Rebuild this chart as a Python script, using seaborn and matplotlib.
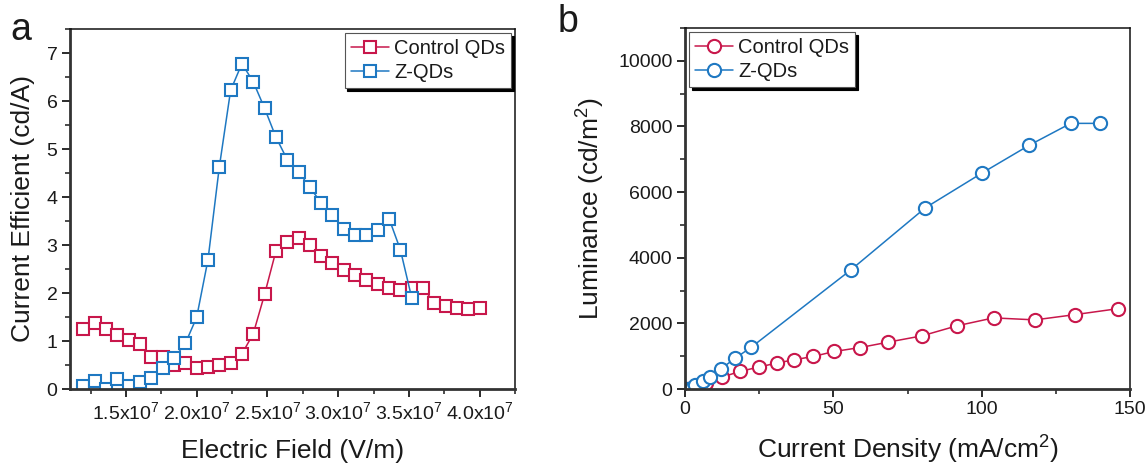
import matplotlib
matplotlib.use("Agg")
import matplotlib.pyplot as plt
import seaborn as sns
import numpy as np
import pandas as pd
from matplotlib.ticker import MultipleLocator, FuncFormatter

# ---- (a) current efficiency vs electric field ----
field_control = [1.20e7, 1.28e7, 1.36e7, 1.44e7, 1.52e7, 1.60e7, 1.68e7, 1.76e7, 1.84e7,
                 1.92e7, 2.00e7, 2.08e7, 2.16e7, 2.24e7, 2.32e7, 2.40e7, 2.48e7, 2.56e7,
                 2.64e7, 2.72e7, 2.80e7, 2.88e7, 2.96e7, 3.04e7, 3.12e7, 3.20e7, 3.28e7,
                 3.36e7, 3.44e7, 3.52e7, 3.60e7, 3.68e7, 3.76e7, 3.84e7, 3.92e7, 4.00e7]
ce_control = [1.25, 1.37, 1.25, 1.13, 1.03, 0.94, 0.66, 0.66, 0.50, 0.55, 0.43, 0.45,
              0.51, 0.55, 0.73, 1.15, 1.97, 2.87, 3.06, 3.15, 3.01, 2.78, 2.62, 2.47,
              2.38, 2.28, 2.19, 2.11, 2.06, 2.10, 2.10, 1.80, 1.73, 1.68, 1.66, 1.68]

field_z = [1.20e7, 1.28e7, 1.36e7, 1.44e7, 1.52e7, 1.60e7, 1.68e7, 1.76e7, 1.84e7,
           1.92e7, 2.00e7, 2.08e7, 2.16e7, 2.24e7, 2.32e7, 2.40e7, 2.48e7, 2.56e7,
           2.64e7, 2.72e7, 2.80e7, 2.88e7, 2.96e7, 3.04e7, 3.12e7, 3.20e7, 3.28e7,
           3.36e7, 3.44e7, 3.52e7]
ce_z = [0.06, 0.17, 0.01, 0.20, 0.06, 0.14, 0.23, 0.43, 0.64, 0.95, 1.49, 2.69,
        4.62, 6.22, 6.78, 6.40, 5.85, 5.25, 4.78, 4.53, 4.20, 3.88, 3.63, 3.33,
        3.21, 3.21, 3.32, 3.55, 2.90, 1.90]

# ---- (b) luminance vs current density ----
jd_control = [0.0, 1.0, 2.5, 4.5, 7.0, 12.4, 18.5, 24.9, 30.9, 36.8, 43.2, 50.3,
              59.1, 68.5, 79.9, 91.6, 104.0, 118.0, 131.6, 146.1]
lum_control = [0, 10, 40, 90, 180, 360, 535, 669, 790, 891, 991, 1143,
               1264, 1428, 1620, 1924, 2167, 2106, 2268, 2450]

jd_z = [0.0, 0.5, 1.2, 2.2, 3.4, 6.0, 8.4, 12.0, 17.0, 22.4, 56.0, 81.0,
        100.0, 116.0, 130.0, 140.0]
lum_z = [0, 5, 15, 40, 110, 230, 365, 608, 942, 1277, 3636, 5520,
         6574, 7426, 8094, 8094]

labels = ["Control QDs", "Z-QDs"]
RED = "#C8174B"
BLUE = "#1E78C2"

sns.set_theme(style="ticks")
plt.rcParams["font.family"] = ["Liberation Sans", "DejaVu Sans"]
plt.rcParams["mathtext.default"] = "regular"
TXT = "#1a1a1a"
plt.rcParams["text.color"] = TXT
plt.rcParams["axes.labelcolor"] = TXT
plt.rcParams["xtick.color"] = TXT
plt.rcParams["ytick.color"] = TXT

fig = plt.figure(figsize=(11.48, 4.66), dpi=100)
W, H = 1148, 466
ax_a = fig.add_axes([70 / W, 1 - 389 / H, 445 / W, 360 / H])
ax_b = fig.add_axes([685 / W, 1 - 389 / H, 445 / W, 361 / H])

line_kw = dict(linewidth=1.1, markeredgewidth=1.5, markerfacecolor="white")

df_a_c = pd.DataFrame({"x": field_control, "y": ce_control})
df_a_z = pd.DataFrame({"x": field_z, "y": ce_z})
sns.lineplot(data=df_a_c, x="x", y="y", ax=ax_a, color=RED, marker="s",
             markersize=8, markeredgecolor=RED, label=labels[0], **line_kw)
sns.lineplot(data=df_a_z, x="x", y="y", ax=ax_a, color=BLUE, marker="s",
             markersize=8, markeredgecolor=BLUE, label=labels[1], **line_kw)

df_b_c = pd.DataFrame({"x": jd_control, "y": lum_control})
df_b_z = pd.DataFrame({"x": jd_z, "y": lum_z})
sns.lineplot(data=df_b_c, x="x", y="y", ax=ax_b, color=RED, marker="o",
             markersize=9.5, markeredgecolor=RED, label=labels[0], **line_kw)
sns.lineplot(data=df_b_z, x="x", y="y", ax=ax_b, color=BLUE, marker="o",
             markersize=9.5, markeredgecolor=BLUE, label=labels[1], **line_kw)

# axis ranges and ticks
ax_a.set_xlim(1.105e7, 4.25e7)
ax_a.set_ylim(0, 7.5)
ax_a.xaxis.set_major_locator(MultipleLocator(0.5e7))
ax_a.xaxis.set_minor_locator(MultipleLocator(0.25e7))
ax_a.yaxis.set_major_locator(MultipleLocator(1))
ax_a.yaxis.set_minor_locator(MultipleLocator(0.5))
ax_a.xaxis.set_major_formatter(
    FuncFormatter(lambda v, p: "" if v < 1.4e7 or v > 4.1e7 else f"{v / 1e7:.1f}x10$^7$"))

ax_b.set_xlim(0, 150)
ax_b.set_ylim(0, 11000)
ax_b.xaxis.set_major_locator(MultipleLocator(50))
ax_b.xaxis.set_minor_locator(MultipleLocator(25))
ax_b.yaxis.set_major_locator(MultipleLocator(2000))
ax_b.yaxis.set_minor_locator(MultipleLocator(1000))

ax_a.set_xlabel("Electric Field (V/m)", fontsize=19, labelpad=11)
ax_a.set_ylabel("Current Efficient (cd/A)", fontsize=19, labelpad=8)
ax_b.set_xlabel("Current Density (mA/cm$^2$)", fontsize=19, labelpad=11)
ax_b.set_ylabel("Luminance (cd/m$^2$)", fontsize=19, labelpad=8)

for ax in (ax_a, ax_b):
    ax.tick_params(which="major", direction="out", length=6, width=1.3,
                   labelsize=14, top=False, right=False, pad=3)
    ax.tick_params(which="minor", direction="out", length=3.5, width=1.1,
                   top=False, right=False)
    ax.spines["left"].set_linewidth(2.0)
    ax.spines["bottom"].set_linewidth(2.0)
    ax.spines["left"].set_color("#333333")
    ax.spines["bottom"].set_color("#333333")
    for s in ("top", "right"):
        ax.spines[s].set_visible(True)
        ax.spines[s].set_linewidth(1.1)
        ax.spines[s].set_color("#111111")
    ax.set_facecolor("white")

leg_kw = dict(fontsize=14.5, frameon=True, fancybox=False, handlelength=1.9,
              handletextpad=0.25, borderpad=0.3, labelspacing=0.25,
              borderaxespad=0.2, shadow={"color": "black", "alpha": 1.0})
leg_a = ax_a.legend(loc="upper right", **leg_kw)
leg_b = ax_b.legend(loc="upper left", **leg_kw)
for leg in (leg_a, leg_b):
    leg.get_frame().set_edgecolor("#555555")
    leg.get_frame().set_linewidth(0.8)
    leg.get_frame().set_alpha(1.0)

fig.text(10 / W, 1 - 40 / H, "a", fontsize=27, color=TXT)
fig.text(558 / W, 1 - 32 / H, "b", fontsize=27, color=TXT)

fig.savefig("out.png", dpi=100, facecolor="white")
